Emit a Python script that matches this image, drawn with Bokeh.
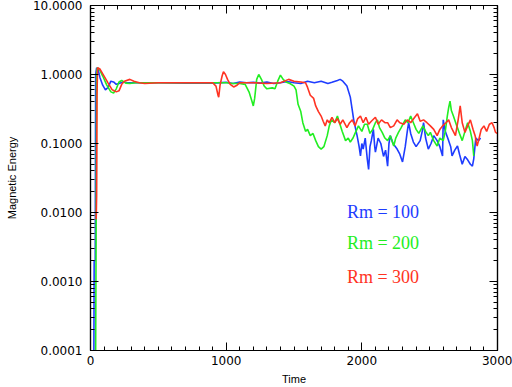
from bokeh.plotting import figure
from bokeh.models import (LinearAxis, LogAxis, FixedTicker, SingleIntervalTicker,
                          PrintfTickFormatter, CustomJSTickFormatter, Label, Range1d)
from bokeh.embed import file_html
from bokeh.resources import INLINE

# ---------------- data ----------------
t_rm100 = [25, 27, 35, 38, 45, 55, 70, 90, 110, 130, 150, 170, 190, 210, 240, 270, 350, 500,
           700, 900, 1000, 1050, 1100, 1150, 1200, 1250, 1300, 1350, 1400, 1450, 1500, 1550,
           1600, 1650, 1700, 1750, 1780, 1820, 1840, 1860, 1890, 1915, 1930, 1940, 1955, 1965,
           1980, 1990, 2000, 2010, 2025, 2040, 2050, 2060, 2070, 2085, 2095, 2100, 2120, 2140,
           2160, 2175, 2190, 2200, 2210, 2230, 2260, 2280, 2300, 2320, 2335, 2345, 2360, 2380,
           2400, 2430, 2445, 2455, 2470, 2490, 2510, 2530, 2555, 2575, 2595, 2600, 2615, 2640,
           2655, 2665, 2685, 2705, 2720, 2740, 2760, 2780, 2800, 2815, 2825, 2840, 2860, 2875]
e_rm100 = [0.0001, 0.002, 0.002, 1.0, 1.25, 1.2, 0.9, 0.7, 0.6, 0.65, 0.8, 0.78, 0.72, 0.74,
           0.78, 0.76, 0.76, 0.76, 0.75, 0.75, 0.77, 0.74, 0.78, 0.76, 0.77, 0.75, 0.78, 0.74,
           0.76, 0.79, 0.76, 0.74, 0.8, 0.76, 0.8, 0.74, 0.77, 0.82, 0.85, 0.8, 0.68, 0.47, 0.3,
           0.22, 0.16, 0.13, 0.09, 0.066, 0.1, 0.083, 0.12, 0.06, 0.042, 0.09, 0.11, 0.16, 0.09,
           0.075, 0.12, 0.1, 0.065, 0.08, 0.047, 0.1, 0.13, 0.1, 0.083, 0.07, 0.054, 0.09, 0.15,
           0.2, 0.14, 0.105, 0.09, 0.11, 0.15, 0.2, 0.12, 0.083, 0.1, 0.13, 0.11, 0.09, 0.066,
           0.22, 0.15, 0.11, 0.09, 0.066, 0.08, 0.092, 0.07, 0.05, 0.065, 0.058, 0.05, 0.047,
           0.06, 0.12, 0.11, 0.12]

t_rm200 = [38, 42, 45, 50, 65, 90, 120, 150, 170, 190, 210, 230, 260, 290, 330, 400, 600, 800,
           1000, 1050, 1100, 1140, 1170, 1190, 1200, 1210, 1225, 1240, 1260, 1280, 1300, 1340,
           1360, 1380, 1400, 1420, 1440, 1470, 1500, 1515, 1530, 1550, 1565, 1585, 1600, 1620,
           1640, 1660, 1680, 1700, 1720, 1745, 1760, 1775, 1800, 1820, 1835, 1855, 1880, 1900,
           1915, 1935, 1950, 1975, 2000, 2020, 2040, 2060, 2080, 2100, 2115, 2130, 2150, 2170,
           2190, 2210, 2235, 2250, 2270, 2290, 2320, 2340, 2360, 2380, 2400, 2420, 2450, 2470,
           2490, 2505, 2530, 2555, 2575, 2600, 2615, 2630, 2640, 2650, 2660, 2675, 2700, 2720,
           2740, 2760, 2780, 2800, 2815, 2825]
e_rm200 = [0.0001, 0.01, 1.0, 1.25, 1.2, 0.95, 0.7, 0.56, 0.54, 0.62, 0.78, 0.82, 0.75, 0.74,
           0.76, 0.76, 0.76, 0.76, 0.76, 0.74, 0.74, 0.72, 0.55, 0.41, 0.35, 0.45, 0.85, 1.0,
           0.85, 0.68, 0.62, 0.64, 0.62, 0.8, 0.98, 0.85, 0.78, 0.74, 0.68, 0.6, 0.37, 0.29, 0.2,
           0.15, 0.16, 0.13, 0.14, 0.11, 0.09, 0.083, 0.09, 0.13, 0.18, 0.22, 0.2, 0.25, 0.2,
           0.15, 0.11, 0.12, 0.105, 0.12, 0.14, 0.18, 0.15, 0.19, 0.19, 0.14, 0.16, 0.2, 0.22,
           0.17, 0.145, 0.12, 0.11, 0.13, 0.092, 0.12, 0.145, 0.17, 0.22, 0.2, 0.25, 0.2, 0.16,
           0.14, 0.18, 0.15, 0.13, 0.145, 0.11, 0.092, 0.12, 0.11, 0.15, 0.25, 0.33, 0.41, 0.3,
           0.25, 0.18, 0.14, 0.11, 0.15, 0.2, 0.15, 0.11, 0.066]

t_rm300 = [42, 45, 48, 52, 70, 100, 130, 160, 190, 210, 230, 250, 290, 320, 360, 400, 500, 700,
           900, 925, 940, 945, 955, 970, 980, 995, 1010, 1030, 1055, 1080, 1100, 1200, 1300,
           1400, 1460, 1500, 1550, 1585, 1600, 1620, 1645, 1660, 1680, 1700, 1715, 1730, 1745,
           1760, 1780, 1800, 1820, 1840, 1860, 1890, 1910, 1930, 1950, 1970, 1990, 2010, 2030,
           2050, 2070, 2100, 2120, 2145, 2170, 2190, 2210, 2235, 2260, 2280, 2310, 2335, 2360,
           2390, 2410, 2430, 2455, 2480, 2505, 2530, 2555, 2575, 2595, 2620, 2640, 2660, 2690,
           2710, 2725, 2740, 2760, 2780, 2800, 2820, 2835, 2850, 2865, 2880, 2900, 2920, 2940,
           2960, 2975, 2985, 3000]
e_rm300 = [0.008, 0.017, 0.5, 1.25, 1.2, 0.95, 0.75, 0.6, 0.56, 0.58, 0.72, 0.8, 0.85, 0.8,
           0.76, 0.74, 0.76, 0.76, 0.76, 0.68, 0.5, 0.47, 0.7, 0.95, 1.1, 1.0, 0.85, 0.72, 0.66,
           0.7, 0.76, 0.76, 0.74, 0.76, 0.85, 0.8, 0.78, 0.76, 0.65, 0.5, 0.45, 0.35, 0.29, 0.25,
           0.21, 0.18, 0.22, 0.2, 0.24, 0.2, 0.23, 0.19, 0.22, 0.17, 0.2, 0.22, 0.18, 0.23, 0.25,
           0.2, 0.24, 0.19, 0.21, 0.24, 0.19, 0.22, 0.2, 0.2, 0.17, 0.18, 0.22, 0.2, 0.19, 0.22,
           0.2, 0.24, 0.27, 0.21, 0.22, 0.2, 0.18, 0.16, 0.13, 0.16, 0.18, 0.2, 0.22, 0.17, 0.13,
           0.22, 0.35, 0.2, 0.145, 0.18, 0.22, 0.16, 0.13, 0.092, 0.12, 0.16, 0.18, 0.15, 0.19,
           0.2, 0.17, 0.145, 0.14]

series_labels = ["Rm = 100", "Rm = 200", "Rm = 300"]
y_ticks = [0.0001, 0.001, 0.01, 0.1, 1.0, 10.0]

colors = ["#1e3cff", "#22ee22", "#ff3322"]

# ---------------- figure ----------------
p = figure(width=512, height=387, y_axis_type="log",
           x_range=Range1d(0, 3000), y_range=Range1d(0.0001, 10),
           output_backend="svg", toolbar_location=None,
           min_border_left=90, min_border_right=15, min_border_top=5, min_border_bottom=37)
p.background_fill_color = "white"
p.border_fill_color = "white"
p.outline_line_color = "black"
p.outline_line_width = 1.2
p.xgrid.visible = False
p.ygrid.visible = False

minor_y = [m * d for d in y_ticks[:-1] for m in range(2, 10)]
yt = FixedTicker(ticks=y_ticks, minor_ticks=minor_y)
xt = SingleIntervalTicker(interval=1000, num_minor_ticks=10)

for ax in p.yaxis:
    ax.ticker = yt
    ax.formatter = PrintfTickFormatter(format="%.4f")
    ax.axis_label = "Magnetic Energy"
for ax in p.xaxis:
    ax.ticker = xt
    ax.axis_label = "Time"

blank = CustomJSTickFormatter(code="return ''")
top = LinearAxis(ticker=xt, formatter=blank)
right = LogAxis(ticker=yt, formatter=blank)
p.add_layout(top, "above")
p.add_layout(right, "right")

for ax in p.axis:
    ax.axis_line_color = "black"
    ax.axis_line_width = 1.2
    ax.major_tick_line_color = "black"
    ax.minor_tick_line_color = "black"
    ax.major_tick_in = 8
    ax.major_tick_out = 0
    ax.minor_tick_in = 4
    ax.minor_tick_out = 0
    ax.major_label_text_font = "DejaVu Sans"
    ax.major_label_text_font_size = "12px"
    ax.major_label_text_color = "black"
    ax.axis_label_text_font = "Liberation Sans"
    ax.axis_label_text_font_size = "11px"
    ax.axis_label_text_font_style = "normal"
    ax.axis_label_text_color = "black"

for ax in (top, right):
    ax.major_label_standoff = 0

p.yaxis[0].major_label_standoff = 8
p.yaxis[0].axis_label_standoff = 12
p.xaxis[0].major_label_standoff = 6
p.xaxis[0].axis_label_standoff = 4

for tt, ee, c in [(t_rm100, e_rm100, colors[0]), (t_rm200, e_rm200, colors[1]),
                  (t_rm300, e_rm300, colors[2])]:
    p.line(tt, ee, line_color=c, line_width=1.6)

label_pos = [(1890, 0.0101), (1890, 0.00359), (1890, 0.00118)]
for (lx, ly), txt, c in zip(label_pos, series_labels, colors):
    p.add_layout(Label(x=lx, y=ly, text=txt, text_color=c, text_font="Liberation Serif",
                       text_font_size="18px", text_baseline="middle", text_align="left"))

open("out.html", "w").write(file_html(p, INLINE))
